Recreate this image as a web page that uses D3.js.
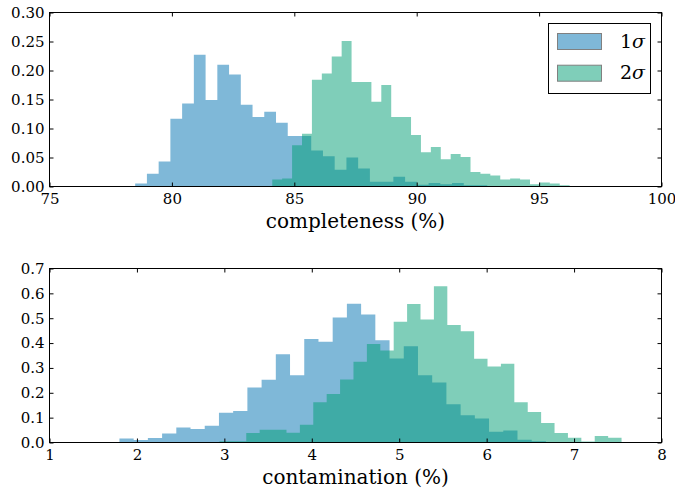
<!DOCTYPE html>
<html>
<head>
<meta charset="utf-8">
<script src="https://cdn.jsdelivr.net/npm/d3@7"></script>
<style>
  body { margin: 0; background: #fff; }
  svg text { font-family: "DejaVu Serif", serif; fill: #000; }
</style>
</head>
<body>
<div id="viz"></div>
<script>
"use strict";

// completeness (%) histograms, 30 bins each (normalised)
var complStart1 = 78.50, complWidth1 = 0.4794;
var compl1 = [0.005, 0.022, 0.043, 0.117, 0.143, 0.227, 0.149, 0.210, 0.193, 0.141,
	0.120, 0.129, 0.110, 0.087, 0.087, 0.062, 0.052, 0.029, 0.050, 0.031,
	0.008, 0.008, 0.017, 0.008, 0.003, 0.006, 0.004, 0.006, 0.002, 0.002];
var complStart2 = 84.10, complWidth2 = 0.4049;
var compl2 = [0.012, 0.014, 0.071, 0.091, 0.184, 0.195, 0.224, 0.251, 0.180, 0.180,
	0.146, 0.175, 0.120, 0.120, 0.089, 0.059, 0.068, 0.047, 0.056, 0.051,
	0.025, 0.022, 0.019, 0.012, 0.014, 0.012, 0.004, 0.007, 0.005, 0.002];

// contamination (%) histograms
var contamStart1 = 1.800, contamWidth1 = 0.1626;
var contam1 = [0.016, 0.010, 0.018, 0.036, 0.060, 0.054, 0.067, 0.120, 0.127, 0.221,
	0.252, 0.355, 0.271, 0.416, 0.405, 0.503, 0.558, 0.515, 0.411, 0.338,
	0.387, 0.271, 0.241, 0.154, 0.110, 0.097, 0.043, 0.048, 0.011, 0.005];
var contamStart2 = 2.944, contamWidth2 = 0.1533;
var contam2 = [0.005, 0.005, 0.038, 0.051, 0.051, 0.039, 0.071, 0.162, 0.195, 0.253,
	0.325, 0.396, 0.370, 0.486, 0.557, 0.495, 0.629, 0.473, 0.448, 0.337,
	0.306, 0.317, 0.162, 0.123, 0.078, 0.038, 0.019, 0.004, 0.026, 0.019];

var seriesLabels = ["1", "2"];
var seriesColors = ["#0072B2", "#009E73"];

var complTicksX = [75, 80, 85, 90, 95, 100];
var complTicksY = [0, 0.05, 0.10, 0.15, 0.20, 0.25, 0.30];
var contamTicksX = [1, 2, 3, 4, 5, 6, 7, 8];
var contamTicksY = [0, 0.1, 0.2, 0.3, 0.4, 0.5, 0.6, 0.7];

var width = 675, height = 491;
var left = 49.5, right = 661.5;

var svg = d3.select("#viz").append("svg")
	.attr("width", width)
	.attr("height", height);

var toBins = function(start, w, heights) {
	var pts = heights.map(function(h, i) { return {x: start + i * w, h: h} });
	pts.push({x: start + heights.length * w, h: heights[heights.length - 1]});
	return pts;
}

var drawPanel = function(opts) {
	var x = d3.scaleLinear().domain(opts.xDomain).range([left, right]);
	var y = d3.scaleLinear().domain(opts.yDomain).range([opts.bottom, opts.top]);
	var g = svg.append("g");

	var area = d3.area()
		.x(function(d) { return x(d.x) })
		.y0(y(0))
		.y1(function(d) { return y(d.h) })
		.curve(d3.curveStepAfter);

	opts.series.forEach(function(s, i) {
		g.append("path")
			.datum(toBins(s.start, s.width, s.values))
			.attr("d", area)
			.attr("fill", seriesColors[i])
			.attr("fill-opacity", 0.5)
			.attr("stroke", "none");
	});

	g.append("rect")
		.attr("x", left).attr("y", opts.top)
		.attr("width", right - left).attr("height", opts.bottom - opts.top)
		.attr("fill", "none").attr("stroke", "#000").attr("stroke-width", 1);

	var styleAxis = function(sel) {
		sel.select(".domain").remove();
		sel.selectAll("line").attr("stroke", "#000");
		sel.selectAll("text").attr("font-size", "15px").attr("font-family", "DejaVu Serif");
	}

	g.append("g").attr("transform", "translate(0," + opts.bottom + ")")
		.call(d3.axisBottom(x).tickValues(opts.xTicks).tickSize(-4).tickPadding(7)
			.tickFormat(d3.format("d")))
		.call(styleAxis);
	g.append("g").attr("transform", "translate(0," + opts.top + ")")
		.call(d3.axisTop(x).tickValues(opts.xTicks).tickSize(-4).tickFormat(""))
		.call(styleAxis);
	g.append("g").attr("transform", "translate(" + left + ",0)")
		.call(d3.axisLeft(y).tickValues(opts.yTicks).tickSize(-4).tickPadding(5)
			.tickFormat(d3.format(opts.yFormat)))
		.call(styleAxis);
	g.append("g").attr("transform", "translate(" + right + ",0)")
		.call(d3.axisRight(y).tickValues(opts.yTicks).tickSize(-4).tickFormat(""))
		.call(styleAxis);

	g.append("text")
		.attr("x", (left + right) / 2)
		.attr("y", opts.bottom + 41)
		.attr("text-anchor", "middle")
		.attr("font-size", "20px")
		.text(opts.label);

	return g;
}

drawPanel({
	top: 12.5, bottom: 186.5,
	xDomain: [75, 100], yDomain: [0, 0.30],
	xTicks: complTicksX, yTicks: complTicksY, yFormat: ".2f",
	label: "completeness (%)",
	series: [
		{start: complStart1, width: complWidth1, values: compl1},
		{start: complStart2, width: complWidth2, values: compl2}
	]
});

drawPanel({
	top: 268.5, bottom: 442.5,
	xDomain: [1, 8], yDomain: [0, 0.7],
	xTicks: contamTicksX, yTicks: contamTicksY, yFormat: ".1f",
	label: "contamination (%)",
	series: [
		{start: contamStart1, width: contamWidth1, values: contam1},
		{start: contamStart2, width: contamWidth2, values: contam2}
	]
});

// legend
var legend = svg.append("g");
legend.append("rect")
	.attr("x", 548.5).attr("y", 23.5)
	.attr("width", 102).attr("height", 70)
	.attr("fill", "#fff").attr("stroke", "#000").attr("stroke-width", 1);

var items = legend.selectAll("g.item")
	.data(seriesLabels)
	.enter().append("g")
	.attr("class", "item")
	.attr("transform", function(d, i) { return "translate(0," + (i * 31.7) + ")" });

items.append("rect")
	.attr("x", 557.5).attr("y", 33.5)
	.attr("width", 44).attr("height", 16)
	.attr("fill", function(d, i) { return seriesColors[i] })
	.attr("fill-opacity", 0.5)
	.attr("stroke", "#808080").attr("stroke-width", 1);

var lt = items.append("text")
	.attr("x", 620)
	.attr("y", 47.5)
	.attr("font-size", "19px")
	.text(function(d) { return d });
lt.append("tspan")
	.attr("font-style", "italic")
	.text("σ");
</script>
</body>
</html>
